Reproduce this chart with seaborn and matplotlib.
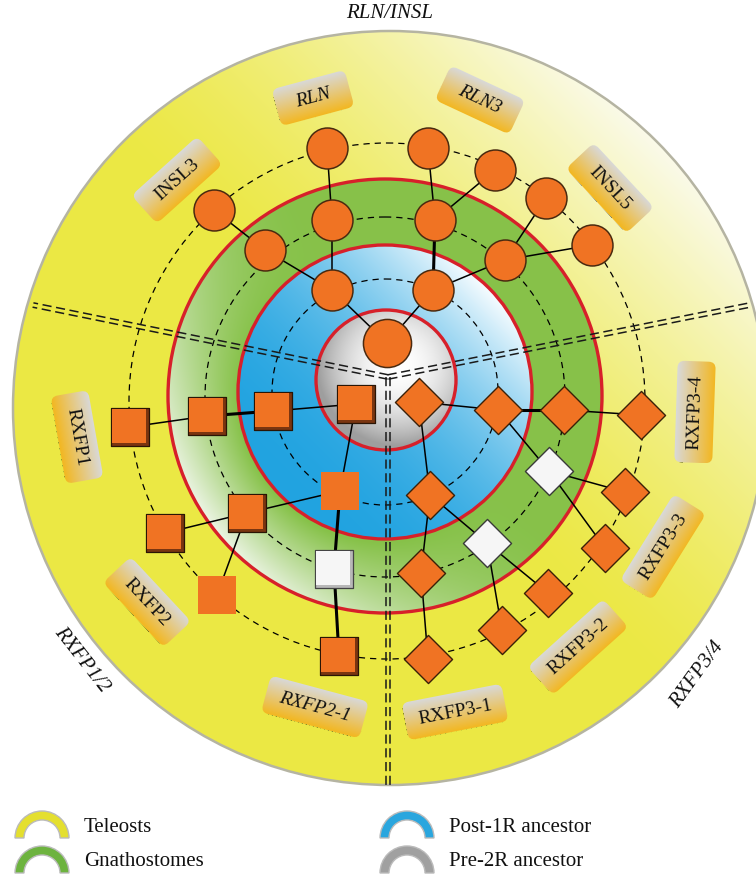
import numpy as np
import pandas as pd
import matplotlib
matplotlib.use("Agg")
import matplotlib.pyplot as plt
import matplotlib.patches as mpatches
import matplotlib.transforms as mtransforms
import seaborn as sns

# RLN/INSL ligands (circles), image pixel positions, y grows downward
lig_x = [387, 332, 433, 265, 332, 435, 505, 214, 327, 428, 495, 546, 592]
lig_y = [343, 290, 290, 250, 220, 220, 260, 210, 148, 148, 170, 198, 245]
lig_edges = [(0, 1), (0, 2), (1, 3), (1, 4), (2, 5), (2, 6), (3, 7), (4, 8), (5, 9), (5, 10), (6, 11), (6, 12)]
lig_thick = [(2, 5)]

# RXFP1/2 receptors (squares)
r12_x = [356, 273, 207, 130, 340, 247, 165, 217, 334, 339]
r12_y = [404, 411, 416, 427, 491, 513, 533, 595, 569, 656]
r12_kind = ["bevel", "bevel", "bevel", "bevel", "flat", "bevel", "bevel", "flat", "white", "bevel"]
r12_edges = [(0, 1), (1, 2), (2, 3), (0, 4), (4, 5), (5, 6), (5, 7), (4, 8), (8, 9)]
r12_thick = [(1, 2), (4, 8), (8, 9)]

# RXFP3/4 receptors (diamonds)
r34_x = [419, 498, 564, 641, 430, 549, 625, 605, 487, 421, 548, 502, 428]
r34_y = [402, 410, 410, 415, 495, 471, 492, 548, 543, 573, 593, 630, 659]
r34_kind = ["orange", "orange", "orange", "orange", "orange", "white", "orange",
            "orange", "white", "orange", "orange", "orange", "orange"]
r34_edges = [(0, 1), (1, 2), (2, 3), (0, 4), (1, 5), (5, 6), (5, 7), (4, 8), (4, 9), (8, 10), (8, 11), (9, 12)]
r34_thick = [(1, 2)]

# gene name tags
gene_labels = ["RLN", "RLN3", "INSL3", "INSL5", "RXFP1", "RXFP2", "RXFP2-1",
               "RXFP3-1", "RXFP3-2", "RXFP3-3", "RXFP3-4"]
gene_x = [313, 480, 177, 610, 77, 147, 315, 455, 578, 663, 695]
gene_y = [98, 100, 180, 188, 437, 602, 707, 712, 647, 547, 412]
gene_rot = [15, -25, 42, -47, -80, -47, -15, 11, 42, 58, 88]
gene_italic = [True, True, False, False, False, False, True, False, False, False, False]

group_labels = ["RLN/INSL", "RXFP1/2", "RXFP3/4"]
group_x = [390, 82, 697]
group_y = [14, 660, 675]
group_rot = [0, -52, 54]

legend_labels = ["Teleosts", "Gnathostomes", "Post-1R ancestor", "Pre-2R ancestor"]
legend_colors = ["#E4DF2F", "#6DB33F", "#2AA6DE", "#A0A0A0"]

W, H = 756, 875
sns.set_theme(style="white")
plt.rcParams["font.family"] = ["Liberation Serif", "DejaVu Serif"]

fig = plt.figure(figsize=(W / 100, H / 100), dpi=100)
ax = fig.add_axes([0, 0, 1, 1])

# ---- background rings, painted as one image ----
yy, xx = np.mgrid[0:H, 0:W] + 0.5
img = np.ones((H, W, 3))


def blend(a, b, t):
    t = t[..., None]
    return np.array(a) * (1 - t) + np.array(b) * t


# teleosts (outer yellow disk)
cx, cy, r = 390, 408, 377
dx, dy = xx - cx, yy - cy
m = dx**2 + dy**2 <= r**2
t = np.clip((dx - dy) / (np.sqrt(2) * r), 0, 1)
col = blend((0.925, 0.91, 0.27), (0.985, 0.985, 0.95), 0.95 * t**1.4)
img[m] = col[m]

# gnathostomes (green ring)
cx, cy, r = 385, 396, 217
dx, dy = xx - cx, yy - cy
d = np.hypot(dx, dy) + 1e-6
m = d <= r
cosang = (-0.8 * dx + 0.6 * dy) / d
s = np.clip((cosang + 0.2) / 1.2, 0, 1)
u = np.clip((d - 147) / 70, 0, 1)
col = blend((0.53, 0.76, 0.29), (0.95, 0.97, 0.93), 0.95 * s**1.5 * u)
img[m] = col[m]

# post-1R (blue disk)
cx, cy, r = 385, 392, 147
dx, dy = xx - cx, yy - cy
m = dx**2 + dy**2 <= r**2
t = np.clip(0.5 + 0.5 * (dx - dy) / (np.sqrt(2) * r), 0, 1)
col = blend((0.13, 0.64, 0.88), (0.97, 0.99, 1.0), t**2.2)
img[m] = col[m]

# pre-2R (white/grey sphere)
cx, cy, r = 386, 380, 70
m = (xx - cx)**2 + (yy - cy)**2 <= r**2
dd = np.clip(np.hypot(xx - 398, yy - 365) / (r * 1.15), 0, 1)
g = 1 - 0.38 * dd**2
col = np.stack([g, g, g], axis=-1)
img[m] = col[m]

ax.imshow(img, extent=[0, W, H, 0], zorder=0, interpolation="bilinear")

ax.add_patch(mpatches.Circle((390, 408), 377, fill=False, ec="#B5B4A2", lw=1.8, zorder=1))
for (cx, cy, r) in [(385, 396, 217), (385, 392, 147), (386, 380, 70)]:
    ax.add_patch(mpatches.Circle((cx, cy), r, fill=False, ec="#D7202A", lw=2.4, zorder=1))

# dashed orbits
for (cx, cy, r) in [(385, 392, 113), (385, 397, 180), (387, 401, 258)]:
    ax.add_patch(mpatches.Circle((cx, cy), r, fill=False, ec="black", lw=0.9,
                                 ls=(0, (5, 4)), zorder=2))

# double dashed separators
hub = np.array([388.0, 377.0])
for end in [(33, 305), (750, 305), (388, 785)]:
    vec = np.array(end) - hub
    n = np.array([-vec[1], vec[0]]) / np.hypot(*vec)
    for sgn in (-1, 1):
        a = hub + sgn * 2.2 * n
        b = np.array(end) + sgn * 2.2 * n
        ax.plot([a[0], b[0]], [a[1], b[1]], color="#1a1a1a", lw=1.1,
                ls=(0, (6, 3)), zorder=3)


# ---- links ----
def draw_links(xs, ys, edges, thick):
    for (i, j) in edges:
        lw = 2.2 if (i, j) in thick else 1.1
        ax.plot([xs[i], xs[j]], [ys[i], ys[j]], color="black", lw=lw, zorder=4,
                solid_capstyle="butt")


draw_links(lig_x, lig_y, lig_edges, lig_thick)
draw_links(r12_x, r12_y, r12_edges, r12_thick)
draw_links(r34_x, r34_y, r34_edges, r34_thick)

# ---- nodes ----
orange = "#F07323"
lig = pd.DataFrame({"x": lig_x, "y": lig_y})
sns.scatterplot(data=lig.iloc[1:], x="x", y="y", marker="o", s=870, color=orange,
                edgecolor="#4a2a10", linewidth=1.1, ax=ax, legend=False, zorder=5)
sns.scatterplot(data=lig.iloc[:1], x="x", y="y", marker="o", s=1200, color=orange,
                edgecolor="#4a2a10", linewidth=1.1, ax=ax, legend=False, zorder=5)

r12 = pd.DataFrame({"x": r12_x, "y": r12_y, "kind": r12_kind})
bev = r12[r12.kind == "bevel"]
sns.scatterplot(data=bev, x="x", y="y", marker="s", s=760, color="#7A3510",
                edgecolor="#2a1505", linewidth=0.9, ax=ax, legend=False, zorder=5)
sns.scatterplot(x=bev.x - 1.5, y=bev.y - 1.5, marker="s", s=590, color=orange,
                linewidth=0, ax=ax, legend=False, zorder=6)
sns.scatterplot(data=r12[r12.kind == "flat"], x="x", y="y", marker="s", s=740,
                color=orange, linewidth=0, ax=ax, legend=False, zorder=5)
wht = r12[r12.kind == "white"]
sns.scatterplot(data=wht, x="x", y="y", marker="s", s=760, color="#B8B8B8",
                edgecolor="#444444", linewidth=0.9, ax=ax, legend=False, zorder=5)
sns.scatterplot(x=wht.x - 1.5, y=wht.y - 1.5, marker="s", s=600, color="#F6F6F6",
                linewidth=0, ax=ax, legend=False, zorder=6)

r34 = pd.DataFrame({"x": r34_x, "y": r34_y, "kind": r34_kind})
sns.scatterplot(data=r34[r34.kind == "orange"], x="x", y="y", marker="D", s=600,
                color=orange, edgecolor="#3a2008", linewidth=1.0, ax=ax, legend=False, zorder=5)
sns.scatterplot(data=r34[r34.kind == "white"], x="x", y="y", marker="D", s=600,
                color="#F6F6F6", edgecolor="#3a3a3a", linewidth=1.0, ax=ax, legend=False, zorder=5)


# ---- gene tags ----
grad = np.linspace(0, 1, 40)[:, None, None]
tag_img = np.repeat(np.array([0.85, 0.85, 0.85]) * (1 - grad)
                    + np.array([0.95, 0.72, 0.14]) * grad, 2, axis=1)

for txt, gx, gy, rot, it in zip(gene_labels, gene_x, gene_y, gene_rot, gene_italic):
    w, h = 56 + 6.5 * len(txt), 38
    tr = mtransforms.Affine2D().rotate_deg(-rot).translate(gx, gy) + ax.transData
    im = ax.imshow(tag_img, extent=[-w / 2, w / 2, h / 2, -h / 2], transform=tr,
                   zorder=7, interpolation="bilinear")
    clip = mpatches.FancyBboxPatch((-w / 2, -h / 2), w, h,
                                   boxstyle="round,pad=0,rounding_size=7",
                                   transform=tr, fc="none", ec="none")
    ax.add_patch(clip)
    im.set_clip_path(clip)
    ax.text(gx, gy, txt, rotation=rot, rotation_mode="anchor", ha="center", va="center",
            fontsize=14, style="italic" if it else "normal", color="#111111", zorder=8)

for txt, gx, gy, rot in zip(group_labels, group_x, group_y, group_rot):
    ax.text(gx, gy, txt, rotation=rot, rotation_mode="anchor", ha="center", va="center",
            fontsize=15, style="italic", color="#111111", zorder=8)

# ---- legend ----
icon_pos = [(42, 838), (42, 873), (407, 838), (407, 873)]
text_pos = [(84, 827), (84, 862), (449, 827), (449, 862)]
for lab, colr, (ix, iy), (tx, ty) in zip(legend_labels, legend_colors, icon_pos, text_pos):
    ax.add_patch(mpatches.Wedge((ix, iy), 27, 180, 360, width=9, fc=colr,
                                ec="#BBBBBB", lw=1.0, zorder=5))
    ax.text(tx, ty, lab, ha="left", va="center", fontsize=15, color="#111111")

ax.set_xlim(0, W)
ax.set_ylim(H, 0)
ax.set_aspect("auto")
ax.axis("off")
fig.savefig("out.png", dpi=100)
